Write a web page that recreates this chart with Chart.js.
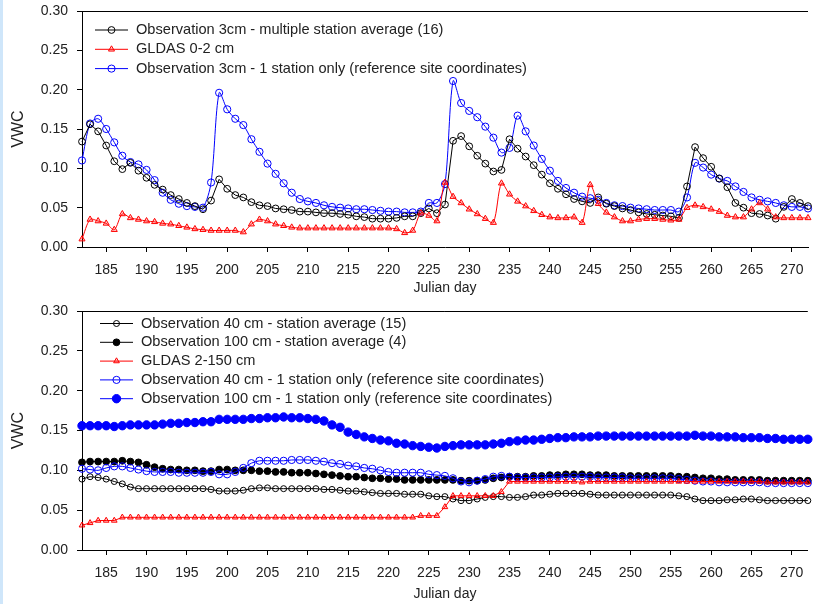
<!DOCTYPE html>
<html>
<head>
<meta charset="utf-8">
<script src="https://cdn.jsdelivr.net/npm/chart.js@4.4.0/dist/chart.umd.min.js"></script>
<style>
  html, body { margin: 0; padding: 0; background: #fff; }
  body { width: 813px; height: 604px; position: relative; overflow: hidden; }
  #strip { position: absolute; left: 0; top: 0; width: 3px; height: 604px; background: #cfe6fa; }
  .panel { position: absolute; left: 0; }
  #top-panel { top: 0; }
  #bottom-panel { top: 300px; }
</style>
</head>
<body>
<div id="strip"></div>
<div class="panel" id="top-panel"><canvas id="top-chart" width="813" height="300"></canvas></div>
<div class="panel" id="bottom-panel"><canvas id="bottom-chart" width="813" height="304"></canvas></div>
<script>
// Julian days 182..272
const days = Array.from({length: 91}, (_, i) => 182 + i);
const dayTicks = [185, 190, 195, 200, 205, 210, 215, 220, 225, 230, 235, 240, 245, 250, 255, 260, 265, 270];
const vwcTicks = [0, 0.05, 0.10, 0.15, 0.20, 0.25, 0.30];

// Top panel - surface
const obs3cmAvg = [
  0.134, 0.156, 0.147, 0.129, 0.109, 0.099, 0.107, 0.097, 0.088, 0.079,
  0.073, 0.066, 0.061, 0.056, 0.052, 0.048, 0.059, 0.086, 0.074, 0.066,
  0.063, 0.057, 0.053, 0.052, 0.049, 0.048, 0.047, 0.045, 0.045, 0.044,
  0.043, 0.043, 0.042, 0.041, 0.039, 0.038, 0.036, 0.036, 0.036, 0.037,
  0.039, 0.039, 0.043, 0.049, 0.043, 0.054, 0.135, 0.141, 0.128, 0.116,
  0.106, 0.096, 0.098, 0.137, 0.125, 0.115, 0.104, 0.092, 0.081, 0.074,
  0.067, 0.061, 0.058, 0.056, 0.063, 0.055, 0.052, 0.049, 0.047, 0.044,
  0.042, 0.041, 0.040, 0.039, 0.037, 0.077, 0.127, 0.113, 0.102, 0.087,
  0.076, 0.056, 0.050, 0.043, 0.042, 0.040, 0.036, 0.051, 0.061, 0.056,
  0.052
];
const gldas02 = [
  0.010, 0.035, 0.033, 0.030, 0.022, 0.042, 0.037, 0.035, 0.033, 0.032,
  0.030, 0.029, 0.027, 0.025, 0.023, 0.022, 0.021, 0.021, 0.021, 0.021,
  0.019, 0.029, 0.035, 0.033, 0.029, 0.027, 0.025, 0.024, 0.024, 0.024,
  0.024, 0.024, 0.024, 0.024, 0.024, 0.024, 0.024, 0.024, 0.024, 0.023,
  0.018, 0.021, 0.043, 0.040, 0.033, 0.082, 0.064, 0.056, 0.048, 0.042,
  0.036, 0.031, 0.081, 0.067, 0.058, 0.052, 0.046, 0.041, 0.038, 0.037,
  0.037, 0.038, 0.031, 0.079, 0.055, 0.044, 0.038, 0.033, 0.033, 0.035,
  0.036, 0.036, 0.035, 0.034, 0.035, 0.050, 0.053, 0.051, 0.048, 0.045,
  0.040, 0.038, 0.038, 0.048, 0.056, 0.048, 0.038, 0.037, 0.037, 0.037,
  0.037
];
const obs3cmOne = [
  0.110, 0.157, 0.163, 0.150, 0.133, 0.116, 0.108, 0.105, 0.098, 0.085,
  0.069, 0.060, 0.055, 0.052, 0.051, 0.050, 0.082, 0.196, 0.175, 0.163,
  0.155, 0.137, 0.121, 0.106, 0.093, 0.081, 0.069, 0.061, 0.058, 0.056,
  0.053, 0.051, 0.050, 0.049, 0.048, 0.048, 0.047, 0.046, 0.045, 0.045,
  0.044, 0.044, 0.045, 0.056, 0.056, 0.080, 0.211, 0.183, 0.173, 0.165,
  0.153, 0.139, 0.120, 0.126, 0.167, 0.147, 0.129, 0.112, 0.097, 0.084,
  0.075, 0.069, 0.064, 0.062, 0.060, 0.056, 0.053, 0.052, 0.050, 0.049,
  0.048, 0.047, 0.047, 0.047, 0.045, 0.063, 0.107, 0.101, 0.092, 0.087,
  0.084, 0.077, 0.070, 0.063, 0.060, 0.058, 0.056, 0.053, 0.051, 0.051,
  0.049
];

// Bottom panel - deep layers
const obs40Avg = [
  0.089, 0.092, 0.091, 0.089, 0.086, 0.083, 0.079, 0.077, 0.077, 0.077,
  0.077, 0.077, 0.077, 0.077, 0.077, 0.077, 0.076, 0.074, 0.074, 0.074,
  0.075, 0.077, 0.078, 0.078, 0.077, 0.077, 0.077, 0.077, 0.077, 0.077,
  0.076, 0.076, 0.075, 0.074, 0.074, 0.073, 0.072, 0.071, 0.071, 0.071,
  0.070, 0.070, 0.070, 0.068, 0.067, 0.067, 0.064, 0.062, 0.062, 0.064,
  0.066, 0.067, 0.067, 0.066, 0.066, 0.067, 0.069, 0.069, 0.070, 0.071,
  0.071, 0.071, 0.071, 0.070, 0.069, 0.069, 0.069, 0.069, 0.069, 0.069,
  0.069, 0.069, 0.069, 0.069, 0.068, 0.067, 0.064, 0.062, 0.062, 0.062,
  0.063, 0.063, 0.064, 0.064, 0.063, 0.062, 0.062, 0.062, 0.062, 0.062,
  0.062
];
const obs100Avg = [
  0.110, 0.111, 0.111, 0.111, 0.111, 0.112, 0.111, 0.110, 0.107, 0.104,
  0.102, 0.101, 0.101, 0.100, 0.100, 0.099, 0.099, 0.101, 0.101, 0.100,
  0.100, 0.100, 0.099, 0.099, 0.098, 0.098, 0.097, 0.097, 0.097, 0.096,
  0.095, 0.094, 0.093, 0.092, 0.092, 0.091, 0.090, 0.090, 0.089, 0.089,
  0.088, 0.088, 0.088, 0.088, 0.088, 0.088, 0.088, 0.087, 0.087, 0.087,
  0.088, 0.090, 0.091, 0.092, 0.092, 0.092, 0.093, 0.093, 0.094, 0.094,
  0.095, 0.095, 0.095, 0.094, 0.094, 0.094, 0.093, 0.093, 0.093, 0.093,
  0.093, 0.093, 0.093, 0.093, 0.092, 0.092, 0.091, 0.090, 0.090, 0.089,
  0.089, 0.088, 0.088, 0.088, 0.088, 0.087, 0.087, 0.087, 0.087, 0.087,
  0.087
];
const gldas2150 = [
  0.031, 0.034, 0.037, 0.037, 0.037, 0.041, 0.041, 0.041, 0.041, 0.041,
  0.041, 0.041, 0.041, 0.041, 0.041, 0.041, 0.041, 0.041, 0.041, 0.041,
  0.041, 0.041, 0.041, 0.041, 0.041, 0.041, 0.041, 0.041, 0.041, 0.041,
  0.041, 0.041, 0.041, 0.041, 0.041, 0.041, 0.041, 0.041, 0.041, 0.041,
  0.041, 0.041, 0.043, 0.043, 0.043, 0.054, 0.068, 0.068, 0.068, 0.068,
  0.068, 0.068, 0.073, 0.086, 0.086, 0.086, 0.086, 0.086, 0.086, 0.086,
  0.086, 0.086, 0.085, 0.086, 0.086, 0.086, 0.086, 0.086, 0.086, 0.086,
  0.086, 0.086, 0.086, 0.086, 0.086, 0.086, 0.086, 0.086, 0.086, 0.086,
  0.086, 0.086, 0.086, 0.086, 0.086, 0.085, 0.085, 0.085, 0.085, 0.085,
  0.085
];
const obs40One = [
  0.102, 0.101, 0.100, 0.103, 0.105, 0.105, 0.103, 0.101, 0.099, 0.098,
  0.098, 0.098, 0.097, 0.097, 0.097, 0.097, 0.098, 0.095, 0.095, 0.098,
  0.103, 0.109, 0.112, 0.112, 0.112, 0.112, 0.113, 0.113, 0.113, 0.112,
  0.111, 0.109, 0.108, 0.106, 0.105, 0.103, 0.102, 0.100, 0.098, 0.097,
  0.097, 0.097, 0.097, 0.095, 0.094, 0.093, 0.090, 0.086, 0.085, 0.087,
  0.089, 0.092, 0.093, 0.092, 0.091, 0.091, 0.091, 0.091, 0.091, 0.092,
  0.092, 0.092, 0.092, 0.092, 0.091, 0.091, 0.091, 0.091, 0.090, 0.090,
  0.090, 0.090, 0.090, 0.090, 0.089, 0.088, 0.087, 0.086, 0.086, 0.085,
  0.085, 0.085, 0.085, 0.085, 0.085, 0.084, 0.084, 0.084, 0.084, 0.084,
  0.084
];
const obs100One = [
  0.156, 0.156, 0.156, 0.156, 0.155, 0.156, 0.157, 0.157, 0.157, 0.157,
  0.158, 0.159, 0.159, 0.160, 0.160, 0.161, 0.161, 0.164, 0.164, 0.164,
  0.164, 0.165, 0.165, 0.166, 0.166, 0.167, 0.166, 0.166, 0.165, 0.164,
  0.162, 0.157, 0.154, 0.148, 0.145, 0.142, 0.140, 0.138, 0.137, 0.134,
  0.133, 0.131, 0.130, 0.129, 0.128, 0.130, 0.131, 0.132, 0.132, 0.132,
  0.132, 0.133, 0.134, 0.136, 0.137, 0.138, 0.138, 0.139, 0.140, 0.141,
  0.141, 0.142, 0.142, 0.142, 0.143, 0.143, 0.143, 0.143, 0.143, 0.143,
  0.143, 0.143, 0.143, 0.143, 0.143, 0.143, 0.144, 0.143, 0.143, 0.142,
  0.142, 0.142, 0.141, 0.141, 0.141, 0.140, 0.140, 0.139, 0.139, 0.139,
  0.139
];

const FONT = '"Liberation Sans", Arial, sans-serif';
const TEXT = '#222';
Chart.defaults.font.family = FONT;

function toPoints(values) {
  return days.map((d, i) => ({x: d, y: values[i]}));
}

function line(label, values, color, style, radius, filled, tension, order) {
  return {
    label: label,
    data: toPoints(values),
    borderColor: color,
    borderWidth: 1,
    pointStyle: style,
    pointRadius: radius,
    pointBorderWidth: 1,
    pointBorderColor: color,
    pointBackgroundColor: filled ? color : (style === 'triangle' ? 'rgba(255,0,0,0.2)' : 'rgba(0,0,0,0)'),
    tension: tension,
    clip: false,
    order: order
  };
}

// legend drawn inside plot: line with marker in the middle
const seriesLegend = {
  id: 'seriesLegend',
  afterDatasetsDraw(chart, args, opts) {
    const ctx = chart.ctx;
    ctx.save();
    ctx.font = '14.6px ' + FONT;
    ctx.textBaseline = 'middle';
    chart.data.datasets.forEach((ds, i) => {
      const y = opts.y + i * opts.rowHeight;
      ctx.lineWidth = 1;
      ctx.strokeStyle = ds.borderColor;
      ctx.beginPath();
      ctx.moveTo(opts.x, y);
      ctx.lineTo(opts.x + opts.lineLength, y);
      ctx.stroke();
      ctx.fillStyle = ds.pointBackgroundColor;
      ctx.strokeStyle = ds.pointBorderColor;
      Chart.helpers.drawPoint(ctx, {pointStyle: ds.pointStyle, radius: ds.pointRadius, borderWidth: 1, rotation: 0},
        opts.x + opts.lineLength / 2, y);
      ctx.fillStyle = TEXT;
      ctx.fillText(ds.label, opts.x + opts.lineLength + opts.gap, y);
    });
    ctx.restore();
  }
};

// top frame line
const topFrame = {
  id: 'topFrame',
  afterDraw(chart) {
    const {ctx, chartArea} = chart;
    ctx.save();
    ctx.strokeStyle = '#000';
    ctx.lineWidth = 1;
    ctx.beginPath();
    ctx.moveTo(chartArea.left, chartArea.top + 0.5);
    ctx.lineTo(chartArea.right, chartArea.top + 0.5);
    ctx.stroke();
    ctx.restore();
  }
};

function panelOptions(xAxisHeight, titlePad, legendOpts) {
  return {
    responsive: false,
    animation: false,
    layout: { padding: { top: 11, right: 0, bottom: 0, left: 0 } },
    scales: {
      x: {
        type: 'linear',
        min: 182,
        max: 272,
        afterBuildTicks: s => { s.ticks = dayTicks.map(v => ({value: v})); },
        afterFit: s => { s.height = xAxisHeight; s.paddingLeft = 0; s.paddingRight = 0; },
        ticks: { autoSkip: false, maxRotation: 0, padding: 10, color: TEXT, font: { size: 14 } },
        grid: { drawOnChartArea: false, tickLength: 5, color: '#000' },
        border: { color: '#000' },
        title: { display: true, text: 'Julian day', color: TEXT, font: { size: 14 }, padding: { top: 0, bottom: titlePad } }
      },
      y: {
        min: 0,
        max: 0.30,
        afterBuildTicks: s => { s.ticks = vwcTicks.map(v => ({value: v})); },
        afterFit: s => { s.width = 82; s.paddingTop = 0; s.paddingBottom = 0; },
        ticks: { autoSkip: false, padding: 9, color: TEXT, font: { size: 14 }, callback: v => v.toFixed(2) },
        grid: { drawOnChartArea: false, tickLength: 5, color: '#000' },
        border: { color: '#000' },
        title: { display: true, text: 'VWC', color: TEXT, font: { size: 16 }, padding: { top: 9, bottom: 0 } }
      }
    },
    plugins: {
      legend: { display: false },
      tooltip: { enabled: false },
      seriesLegend: legendOpts
    }
  };
}

let topChart = new Chart(document.getElementById('top-chart'), {
  type: 'line',
  data: {
    datasets: [
      line('Observation 3cm - multiple station average (16)', obs3cmAvg, '#000000', 'circle', 3.4, false, 0, 1),
      line('GLDAS 0-2 cm', gldas02, '#ff0000', 'triangle', 3.5, false, 0.3, 0),
      line('Observation 3cm - 1 station only (reference site coordinates)', obs3cmOne, '#0000ff', 'circle', 3.6, false, 0.3, 2)
    ]
  },
  options: panelOptions(53, 3, { x: 95, y: 30, rowHeight: 19.3, lineLength: 33, gap: 8 }),
  plugins: [seriesLegend, topFrame]
});

let bottomChart = new Chart(document.getElementById('bottom-chart'), {
  type: 'line',
  data: {
    datasets: [
      line('Observation 40 cm - station average (15)', obs40Avg, '#000000', 'circle', 3, false, 0, 4),
      line('Observation 100 cm - station average (4)', obs100Avg, '#000000', 'circle', 3.4, true, 0, 2),
      line('GLDAS 2-150 cm', gldas2150, '#ff0000', 'triangle', 3.3, false, 0, 0),
      line('Observation 40 cm - 1 station only (reference site coordinates)', obs40One, '#0000ff', 'circle', 3.6, false, 0.3, 1),
      line('Observation 100 cm - 1 station only (reference site coordinates)', obs100One, '#0000ff', 'circle', 4.2, true, 0.3, 3)
    ]
  },
  options: panelOptions(54, 1, { x: 100, y: 23.5, rowHeight: 18.8, lineLength: 33, gap: 8 }),
  plugins: [seriesLegend, topFrame]
});
</script>
</body>
</html>
